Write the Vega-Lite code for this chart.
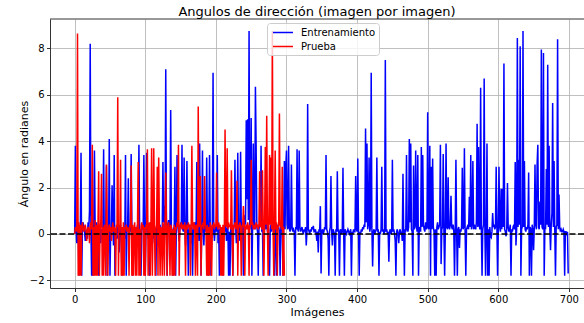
{
  "$schema": "https://vega.github.io/schema/vega-lite/v6.json",
  "autosize": {"type": "none"},
  "width": 534,
  "height": 269,
  "padding": {"left": 50, "top": 19, "right": 0, "bottom": 35},
  "background": "white",
  "title": {"text": "Angulos de dirección (imagen por imagen)", "fontSize": 13, "font": "DejaVu Sans", "fontWeight": "normal", "color": "#000", "anchor": "middle", "offset": 0},
  "config": {
    "font": "DejaVu Sans",
    "view": {"stroke": null},
    "axis": {"domain": true, "domainColor": "#333", "domainWidth": 1, "grid": true, "gridColor": "#b0b0b0", "gridWidth": 0.8, "tickColor": "#000", "tickSize": 3.5, "tickWidth": 0.8, "labelFontSize": 10, "labelColor": "#000", "labelPadding": 2.5, "titleFontSize": 11, "titleFontWeight": "normal", "titleColor": "#000", "labelFont": "DejaVu Sans", "titleFont": "DejaVu Sans"}
  },
  "datasets": {
    "train": [
{"i":0,"v":0},{"i":1,"v":3.8},{"i":2,"v":0.2},{"i":3,"v":-0.4},{"i":4,"v":0.1},{"i":5,"v":0.3},{"i":6,"v":-1.8},{"i":7,"v":0.2},{"i":8,"v":0.1},{"i":9,"v":3.5},
{"i":10,"v":-1.8},{"i":11,"v":0.3},{"i":12,"v":0.5},{"i":13,"v":0.2},{"i":14,"v":0.1},{"i":15,"v":-0.3},{"i":16,"v":0.2},{"i":17,"v":0},{"i":18,"v":-0.2},{"i":19,"v":0.5},
{"i":20,"v":0.2},{"i":21,"v":1.0},{"i":22,"v":8.2},{"i":23,"v":0.3},{"i":24,"v":-1.8},{"i":25,"v":0.4},{"i":26,"v":-1.8},{"i":27,"v":0.1},{"i":28,"v":3.6},{"i":29,"v":0.2},
{"i":30,"v":-0.3},{"i":31,"v":0.5},{"i":32,"v":-0.6},{"i":33,"v":0.1},{"i":34,"v":-1.8},{"i":35,"v":0.3},{"i":36,"v":0.2},{"i":37,"v":-0.4},{"i":38,"v":0.2},{"i":39,"v":0.1},
{"i":40,"v":0.3},{"i":41,"v":3.65},{"i":42,"v":-0.5},{"i":43,"v":0.2},{"i":44,"v":0.4},{"i":45,"v":2.95},{"i":46,"v":-1.8},{"i":47,"v":0.2},{"i":48,"v":-0.3},{"i":49,"v":4.1},
{"i":50,"v":-1.8},{"i":51,"v":0.1},{"i":52,"v":0.3},{"i":53,"v":2.1},{"i":54,"v":0.4},{"i":55,"v":-0.5},{"i":56,"v":3.4},{"i":57,"v":-1.8},{"i":58,"v":0.2},{"i":59,"v":0.1},
{"i":60,"v":-0.2},{"i":61,"v":0.3},{"i":62,"v":0.1},{"i":63,"v":-0.8},{"i":64,"v":0.2},{"i":65,"v":0.4},{"i":66,"v":-0.3},{"i":67,"v":-1.8},{"i":68,"v":0.2},{"i":69,"v":0.1},
{"i":70,"v":0.3},{"i":71,"v":-0.2},{"i":72,"v":3.4},{"i":73,"v":-1.8},{"i":74,"v":0.1},{"i":75,"v":0.3},{"i":76,"v":2.4},{"i":77,"v":-0.5},{"i":78,"v":0.2},{"i":79,"v":0.1},
{"i":80,"v":3.45},{"i":81,"v":0.3},{"i":82,"v":-1.8},{"i":83,"v":0.2},{"i":84,"v":0.1},{"i":85,"v":-0.4},{"i":86,"v":0.3},{"i":87,"v":0.2},{"i":88,"v":0.1},{"i":89,"v":0.4},
{"i":90,"v":0.3},{"i":91,"v":3.85},{"i":92,"v":0.2},{"i":93,"v":-0.3},{"i":94,"v":-1.8},{"i":95,"v":0.1},{"i":96,"v":0.4},{"i":97,"v":0.2},{"i":98,"v":3.4},{"i":99,"v":0.3},
{"i":100,"v":-1.8},{"i":101,"v":0.2},{"i":102,"v":3.5},{"i":103,"v":0.3},{"i":104,"v":-0.2},{"i":105,"v":0.1},{"i":106,"v":-1.8},{"i":107,"v":0.4},{"i":108,"v":0.2},{"i":109,"v":0.1},
{"i":110,"v":0.3},{"i":111,"v":-0.2},{"i":112,"v":0.2},{"i":113,"v":-0.4},{"i":114,"v":0.1},{"i":115,"v":-1.8},{"i":116,"v":0.3},{"i":117,"v":0.2},{"i":118,"v":-0.5},{"i":119,"v":0.1},
{"i":120,"v":0.2},{"i":121,"v":0.4},{"i":122,"v":-0.3},{"i":123,"v":0.2},{"i":124,"v":0.1},{"i":125,"v":3.1},{"i":126,"v":0.5},{"i":127,"v":1.2},{"i":128,"v":0.3},{"i":129,"v":7.1},
{"i":130,"v":0.2},{"i":131,"v":-1.8},{"i":132,"v":0.4},{"i":133,"v":0.6},{"i":134,"v":0.3},{"i":135,"v":0.2},{"i":136,"v":5.35},{"i":137,"v":0.3},{"i":138,"v":0.1},{"i":139,"v":-1.8},
{"i":140,"v":0.2},{"i":141,"v":0.3},{"i":142,"v":2.9},{"i":143,"v":-1.8},{"i":144,"v":0.2},{"i":145,"v":3.4},{"i":146,"v":0.4},{"i":147,"v":0.1},{"i":148,"v":-0.3},{"i":149,"v":0.2},
{"i":150,"v":0.5},{"i":151,"v":0.3},{"i":152,"v":3.85},{"i":153,"v":0.2},{"i":154,"v":0.1},{"i":155,"v":3.3},{"i":156,"v":0.4},{"i":157,"v":-0.5},{"i":158,"v":0.3},{"i":159,"v":3.15},
{"i":160,"v":0.2},{"i":161,"v":-1.8},{"i":162,"v":0.1},{"i":163,"v":0.4},{"i":164,"v":0.2},{"i":165,"v":-0.4},{"i":166,"v":0.3},{"i":167,"v":-1.8},{"i":168,"v":0.2},{"i":169,"v":0.1},
{"i":170,"v":0.5},{"i":171,"v":0.3},{"i":172,"v":0.2},{"i":173,"v":3.1},{"i":174,"v":0.2},{"i":175,"v":0.4},{"i":176,"v":-0.3},{"i":177,"v":3.9},{"i":178,"v":0.1},{"i":179,"v":-1.8},
{"i":180,"v":0.3},{"i":181,"v":3.6},{"i":182,"v":0.2},{"i":183,"v":-0.5},{"i":184,"v":0.4},{"i":185,"v":0.1},{"i":186,"v":0.3},{"i":187,"v":3.3},{"i":188,"v":0.2},{"i":189,"v":-1.8},
{"i":190,"v":0.1},{"i":191,"v":3.4},{"i":192,"v":0.3},{"i":193,"v":-1.8},{"i":194,"v":0.2},{"i":195,"v":0.4},{"i":196,"v":6.95},{"i":197,"v":0.1},{"i":198,"v":-0.3},{"i":199,"v":0.2},
{"i":200,"v":0.3},{"i":201,"v":0.1},{"i":202,"v":3.4},{"i":203,"v":-0.4},{"i":204,"v":0.2},{"i":205,"v":-1.8},{"i":206,"v":0.3},{"i":207,"v":0.1},{"i":208,"v":0.2},{"i":209,"v":-0.5},
{"i":210,"v":-1.8},{"i":211,"v":0.3},{"i":212,"v":0.2},{"i":213,"v":0.1},{"i":214,"v":0.4},{"i":215,"v":-0.3},{"i":216,"v":0.2},{"i":217,"v":0.3},{"i":218,"v":-1.8},{"i":219,"v":0.1},
{"i":220,"v":-1.8},{"i":221,"v":0.2},{"i":222,"v":0.3},{"i":223,"v":0.1},{"i":224,"v":-1.8},{"i":225,"v":0.2},{"i":226,"v":0.4},{"i":227,"v":3.2},{"i":228,"v":0.3},{"i":229,"v":-0.4},
{"i":230,"v":0.2},{"i":231,"v":3.5},{"i":232,"v":0.1},{"i":233,"v":-0.3},{"i":234,"v":0.4},{"i":235,"v":3.55},{"i":236,"v":0.2},{"i":237,"v":0.5},{"i":238,"v":0.3},{"i":239,"v":-1.8},
{"i":240,"v":0.3},{"i":241,"v":0.8},{"i":242,"v":0.4},{"i":243,"v":4.9},{"i":244,"v":1.5},{"i":245,"v":4.95},{"i":246,"v":0.6},{"i":247,"v":8.75},{"i":248,"v":0.2},{"i":249,"v":0.5},
{"i":250,"v":5.0},{"i":251,"v":-1.8},{"i":252,"v":0.3},{"i":253,"v":3.9},{"i":254,"v":0.4},{"i":255,"v":0.2},{"i":256,"v":6.35},{"i":257,"v":3.8},{"i":258,"v":0.3},{"i":259,"v":0.1},
{"i":260,"v":-1.8},{"i":261,"v":0.2},{"i":262,"v":0.4},{"i":263,"v":0.3},{"i":264,"v":3.8},{"i":265,"v":0.1},{"i":266,"v":0.2},{"i":267,"v":-1.8},{"i":268,"v":0.3},{"i":269,"v":0.5},
{"i":270,"v":0.2},{"i":271,"v":0.3},{"i":272,"v":0.6},{"i":273,"v":0.1},{"i":274,"v":0.4},{"i":275,"v":-0.3},{"i":276,"v":-1.8},{"i":277,"v":0.2},{"i":278,"v":0.4},{"i":279,"v":0.1},
{"i":280,"v":0.3},{"i":281,"v":0.5},{"i":282,"v":0.2},{"i":283,"v":-1.8},{"i":284,"v":0.3},{"i":285,"v":0.1},{"i":286,"v":-1.8},{"i":287,"v":0.4},{"i":288,"v":0.2},{"i":289,"v":0.3},
{"i":290,"v":0.1},{"i":291,"v":-1.8},{"i":292,"v":0.3},{"i":293,"v":0.2},{"i":294,"v":0.4},{"i":295,"v":-1.8},{"i":296,"v":0.3},{"i":297,"v":3.15},{"i":298,"v":0.2},{"i":299,"v":2.9},
{"i":300,"v":3.6},{"i":301,"v":0.4},{"i":302,"v":0.2},{"i":303,"v":3.8},{"i":304,"v":0.3},{"i":305,"v":0.1},{"i":306,"v":0.2},{"i":307,"v":3.0},{"i":308,"v":0.3},{"i":309,"v":0.1},
{"i":310,"v":0.2},{"i":311,"v":0.1},{"i":312,"v":-1.8},{"i":313,"v":0.3},{"i":314,"v":0.2},{"i":315,"v":3.65},{"i":316,"v":0.2},{"i":317,"v":0.1},{"i":318,"v":3.6},{"i":319,"v":0.3},
{"i":320,"v":0.1},{"i":321,"v":0.2},{"i":322,"v":0.3},{"i":323,"v":0.1},{"i":324,"v":0},{"i":325,"v":0.2},{"i":326,"v":0.1},{"i":327,"v":0.3},{"i":328,"v":-0.5},{"i":329,"v":0.1},
{"i":330,"v":5.6},{"i":331,"v":0.2},{"i":332,"v":0.1},{"i":333,"v":0},{"i":334,"v":0.2},{"i":335,"v":0.1},{"i":336,"v":0.3},{"i":337,"v":0.2},{"i":338,"v":0.35},{"i":339,"v":0.1},
{"i":340,"v":0.1},{"i":341,"v":0.2},{"i":342,"v":0},{"i":343,"v":-0.3},{"i":344,"v":0.1},{"i":345,"v":-0.8},{"i":346,"v":0.2},{"i":347,"v":0.1},{"i":348,"v":1.2},{"i":349,"v":-1.7},
{"i":350,"v":0.1},{"i":351,"v":0.2},{"i":352,"v":0},{"i":353,"v":0.1},{"i":354,"v":0.3},{"i":355,"v":0.2},{"i":356,"v":3.4},{"i":357,"v":0.2},{"i":358,"v":0.1},{"i":359,"v":-0.2},
{"i":360,"v":-1.8},{"i":361,"v":0.1},{"i":362,"v":0.3},{"i":363,"v":2.5},{"i":364,"v":0.1},{"i":365,"v":-0.5},{"i":366,"v":0.2},{"i":367,"v":0.1},{"i":368,"v":0},{"i":369,"v":-1.8},
{"i":370,"v":0.2},{"i":371,"v":0.1},{"i":372,"v":2.7},{"i":373,"v":0.1},{"i":374,"v":0.2},{"i":375,"v":-1.8},{"i":376,"v":0.1},{"i":377,"v":0.2},{"i":378,"v":0},{"i":379,"v":0.1},
{"i":380,"v":2.85},{"i":381,"v":0.1},{"i":382,"v":-1.8},{"i":383,"v":0.2},{"i":384,"v":0.1},{"i":385,"v":0},{"i":386,"v":0.1},{"i":387,"v":0.2},{"i":388,"v":0.1},{"i":389,"v":0},
{"i":390,"v":0.1},{"i":391,"v":0.2},{"i":392,"v":-1.8},{"i":393,"v":0.1},{"i":394,"v":0},{"i":395,"v":0.2},{"i":396,"v":0.1},{"i":397,"v":0.1},{"i":398,"v":2.5},{"i":399,"v":0.2},
{"i":400,"v":0.1},{"i":401,"v":3.25},{"i":402,"v":0.2},{"i":403,"v":-1.8},{"i":404,"v":0.1},{"i":405,"v":0},{"i":406,"v":0.2},{"i":407,"v":0.1},{"i":408,"v":0.3},{"i":409,"v":0.2},
{"i":410,"v":0.4},{"i":411,"v":0.3},{"i":412,"v":4.55},{"i":413,"v":0.5},{"i":414,"v":3.9},{"i":415,"v":0.2},{"i":416,"v":0.4},{"i":417,"v":3.3},{"i":418,"v":0.1},{"i":419,"v":0.3},
{"i":420,"v":6.95},{"i":421,"v":0.2},{"i":422,"v":-1.4},{"i":423,"v":0.1},{"i":424,"v":0.2},{"i":425,"v":0},{"i":426,"v":0.1},{"i":427,"v":0.2},{"i":428,"v":3.3},{"i":429,"v":0.1},
{"i":430,"v":0.2},{"i":431,"v":-1.8},{"i":432,"v":0.1},{"i":433,"v":0},{"i":434,"v":0.2},{"i":435,"v":2.9},{"i":436,"v":0.1},{"i":437,"v":0.2},{"i":438,"v":0},{"i":439,"v":0.1},
{"i":440,"v":7.5},{"i":441,"v":0.1},{"i":442,"v":0.2},{"i":443,"v":0},{"i":444,"v":0.1},{"i":445,"v":-1.2},{"i":446,"v":0.1},{"i":447,"v":0.2},{"i":448,"v":0},{"i":449,"v":0.1},
{"i":450,"v":3.2},{"i":451,"v":0.1},{"i":452,"v":0.2},{"i":453,"v":0},{"i":454,"v":-0.3},{"i":455,"v":-1.8},{"i":456,"v":0.1},{"i":457,"v":0.2},{"i":458,"v":0},{"i":459,"v":-0.4},
{"i":460,"v":0.1},{"i":461,"v":0.2},{"i":462,"v":0},{"i":463,"v":0.1},{"i":464,"v":-0.3},{"i":465,"v":2.6},{"i":466,"v":0.1},{"i":467,"v":-1.8},{"i":468,"v":0.2},{"i":469,"v":0.1},
{"i":470,"v":3.4},{"i":471,"v":0.2},{"i":472,"v":0.1},{"i":473,"v":0.3},{"i":474,"v":4.1},{"i":475,"v":0.5},{"i":476,"v":3.9},{"i":477,"v":0.2},{"i":478,"v":0.1},{"i":479,"v":-1.8},
{"i":480,"v":2.95},{"i":481,"v":0.2},{"i":482,"v":0.3},{"i":483,"v":3.6},{"i":484,"v":0.4},{"i":485,"v":0.1},{"i":486,"v":3.4},{"i":487,"v":-1.8},{"i":488,"v":0.2},{"i":489,"v":0.3},
{"i":490,"v":0.1},{"i":491,"v":3.75},{"i":492,"v":0.3},{"i":493,"v":3.4},{"i":494,"v":0.4},{"i":495,"v":0.2},{"i":496,"v":0.1},{"i":497,"v":0.5},{"i":498,"v":0.2},{"i":499,"v":0.3},
{"i":500,"v":5.25},{"i":501,"v":0.2},{"i":502,"v":0.3},{"i":503,"v":3.8},{"i":504,"v":-1.8},{"i":505,"v":2.9},{"i":506,"v":0.2},{"i":507,"v":3.25},{"i":508,"v":0.3},{"i":509,"v":0.1},
{"i":510,"v":-1.8},{"i":511,"v":0.2},{"i":512,"v":-1.8},{"i":513,"v":0.3},{"i":514,"v":0.5},{"i":515,"v":0.2},{"i":516,"v":0.3},{"i":517,"v":0.4},{"i":518,"v":3.85},{"i":519,"v":-1.3},
{"i":520,"v":0.2},{"i":521,"v":0.3},{"i":522,"v":3.45},{"i":523,"v":0.1},{"i":524,"v":-1.8},{"i":525,"v":0.2},{"i":526,"v":3.9},{"i":527,"v":0.3},{"i":528,"v":0.2},{"i":529,"v":2.45},
{"i":530,"v":0.3},{"i":531,"v":0.2},{"i":532,"v":0.4},{"i":533,"v":1.65},{"i":534,"v":0.3},{"i":535,"v":0.2},{"i":536,"v":0.4},{"i":537,"v":0.1},{"i":538,"v":-1.8},{"i":539,"v":0.2},
{"i":540,"v":3.2},{"i":541,"v":0.1},{"i":542,"v":-1.8},{"i":543,"v":0.2},{"i":544,"v":0.3},{"i":545,"v":-0.6},{"i":546,"v":0.2},{"i":547,"v":0.1},{"i":548,"v":0.3},{"i":549,"v":2.85},
{"i":550,"v":0.2},{"i":551,"v":0.3},{"i":552,"v":3.7},{"i":553,"v":0.1},{"i":554,"v":-1.8},{"i":555,"v":0.2},{"i":556,"v":0.3},{"i":557,"v":0.4},{"i":558,"v":0.2},{"i":559,"v":1.6},
{"i":560,"v":0.3},{"i":561,"v":3.4},{"i":562,"v":0.2},{"i":563,"v":0.4},{"i":564,"v":3.15},{"i":565,"v":0.2},{"i":566,"v":0.4},{"i":567,"v":0.3},{"i":568,"v":0.2},{"i":569,"v":0.5},
{"i":570,"v":4.75},{"i":571,"v":0.3},{"i":572,"v":3.75},{"i":573,"v":0.4},{"i":574,"v":0.2},{"i":575,"v":6.3},{"i":576,"v":0.3},{"i":577,"v":-1.8},{"i":578,"v":0.2},{"i":579,"v":0.4},
{"i":580,"v":6.7},{"i":581,"v":0.2},{"i":582,"v":-1.8},{"i":583,"v":0.3},{"i":584,"v":3.9},{"i":585,"v":-1.8},{"i":586,"v":0.2},{"i":587,"v":-1.8},{"i":588,"v":0.3},{"i":589,"v":-0.1},
{"i":590,"v":-0.15},{"i":591,"v":0.1},{"i":592,"v":0.9},{"i":593,"v":0.3},{"i":594,"v":0.4},{"i":595,"v":0.2},{"i":596,"v":0.3},{"i":597,"v":2.9},{"i":598,"v":0.4},{"i":599,"v":-1.8},
{"i":600,"v":0.2},{"i":601,"v":2.9},{"i":602,"v":0.3},{"i":603,"v":0.1},{"i":604,"v":1.95},{"i":605,"v":0.2},{"i":606,"v":1.95},{"i":607,"v":0.3},{"i":608,"v":7.35},{"i":609,"v":0.2},
{"i":610,"v":0.1},{"i":611,"v":-0.1},{"i":612,"v":0.2},{"i":613,"v":2.2},{"i":614,"v":0.3},{"i":615,"v":0.1},{"i":616,"v":0.2},{"i":617,"v":0.4},{"i":618,"v":-1.8},{"i":619,"v":0.2},
{"i":620,"v":0.1},{"i":621,"v":0.3},{"i":622,"v":0.4},{"i":623,"v":0.2},{"i":624,"v":3.1},{"i":625,"v":-0.5},{"i":626,"v":0.2},{"i":627,"v":8.45},{"i":628,"v":0.3},{"i":629,"v":3.2},
{"i":630,"v":0.4},{"i":631,"v":8.1},{"i":632,"v":-1.8},{"i":633,"v":0.2},{"i":634,"v":0.3},{"i":635,"v":8.75},{"i":636,"v":0.3},{"i":637,"v":3.15},{"i":638,"v":0.2},{"i":639,"v":0.1},
{"i":640,"v":0.3},{"i":641,"v":0.2},{"i":642,"v":0.4},{"i":643,"v":2.65},{"i":644,"v":-1.8},{"i":645,"v":0.3},{"i":646,"v":0.2},{"i":647,"v":-1.8},{"i":648,"v":0.4},{"i":649,"v":0.2},
{"i":650,"v":-0.7},{"i":651,"v":0.3},{"i":652,"v":3.0},{"i":653,"v":0.4},{"i":654,"v":0.2},{"i":655,"v":3.0},{"i":656,"v":3.85},{"i":657,"v":0.3},{"i":658,"v":0.2},{"i":659,"v":1.4},
{"i":660,"v":0.4},{"i":661,"v":7.95},{"i":662,"v":0.3},{"i":663,"v":0.2},{"i":664,"v":7.8},{"i":665,"v":-1.8},{"i":666,"v":0.3},{"i":667,"v":0.2},{"i":668,"v":2.8},{"i":669,"v":0.4},
{"i":670,"v":7.3},{"i":671,"v":0.3},{"i":672,"v":3.8},{"i":673,"v":0.2},{"i":674,"v":-0.7},{"i":675,"v":0.4},{"i":676,"v":0.9},{"i":677,"v":5.65},{"i":678,"v":0.3},{"i":679,"v":3.15},
{"i":680,"v":0.2},{"i":681,"v":-1.8},{"i":682,"v":0.3},{"i":683,"v":0.4},{"i":684,"v":8.4},{"i":685,"v":0.2},{"i":686,"v":1.7},{"i":687,"v":0.3},{"i":688,"v":0.1},{"i":689,"v":0.2},
{"i":690,"v":0.1},{"i":691,"v":0.1},{"i":692,"v":0.2},{"i":693,"v":0.1},{"i":694,"v":-1.8},{"i":695,"v":0.1},{"i":696,"v":0.1},{"i":697,"v":0},{"i":698,"v":0.1},{"i":699,"v":-1.7}
    ],
    "test": [
{"i":0,"v":0},{"i":1,"v":0.3},{"i":2,"v":0.2},{"i":3,"v":0.1},{"i":4,"v":8.65},{"i":5,"v":-1.8},{"i":6,"v":0.5},{"i":7,"v":-1.8},{"i":8,"v":0.4},{"i":9,"v":-1.8},
{"i":10,"v":0.3},{"i":11,"v":0.5},{"i":12,"v":0.2},{"i":13,"v":0.1},{"i":14,"v":0.3},{"i":15,"v":0.4},{"i":16,"v":0.2},{"i":17,"v":-0.3},{"i":18,"v":0.1},{"i":19,"v":0.3},
{"i":20,"v":0.2},{"i":21,"v":-0.4},{"i":22,"v":0.3},{"i":23,"v":0.5},{"i":24,"v":0.2},{"i":25,"v":3.85},{"i":26,"v":-1.8},{"i":27,"v":0.3},{"i":28,"v":-1.8},{"i":29,"v":0.6},
{"i":30,"v":-1.8},{"i":31,"v":0.4},{"i":32,"v":-1.8},{"i":33,"v":0.3},{"i":34,"v":2.7},{"i":35,"v":-1.8},{"i":36,"v":0.2},{"i":37,"v":0.5},{"i":38,"v":2.6},{"i":39,"v":-1.8},
{"i":40,"v":0.3},{"i":41,"v":-1.8},{"i":42,"v":0.4},{"i":43,"v":0.2},{"i":44,"v":-1.8},{"i":45,"v":3.0},{"i":46,"v":0.3},{"i":47,"v":-1.8},{"i":48,"v":0.2},{"i":49,"v":0.4},
{"i":50,"v":0.1},{"i":51,"v":0.3},{"i":52,"v":-0.3},{"i":53,"v":0.2},{"i":54,"v":0.5},{"i":55,"v":0.1},{"i":56,"v":0.3},{"i":57,"v":0.2},{"i":58,"v":-1.8},{"i":59,"v":0.4},
{"i":60,"v":0.3},{"i":61,"v":5.9},{"i":62,"v":-1.8},{"i":63,"v":0.4},{"i":64,"v":0.2},{"i":65,"v":3.2},{"i":66,"v":-1.8},{"i":67,"v":0.3},{"i":68,"v":-1.8},{"i":69,"v":0.5},
{"i":70,"v":-1.8},{"i":71,"v":0.3},{"i":72,"v":0.2},{"i":73,"v":0.4},{"i":74,"v":0.1},{"i":75,"v":0.3},{"i":76,"v":0.2},{"i":77,"v":-1.8},{"i":78,"v":0.4},{"i":79,"v":0.3},
{"i":80,"v":2.95},{"i":81,"v":-1.8},{"i":82,"v":0.4},{"i":83,"v":-1.8},{"i":84,"v":0.2},{"i":85,"v":0.5},{"i":86,"v":-1.8},{"i":87,"v":0.3},{"i":88,"v":-1.8},{"i":89,"v":0.4},
{"i":90,"v":3.1},{"i":91,"v":-1.8},{"i":92,"v":0.2},{"i":93,"v":-1.8},{"i":94,"v":0.3},{"i":95,"v":0.5},{"i":96,"v":0.2},{"i":97,"v":0.4},{"i":98,"v":-1.8},{"i":99,"v":0.3},
{"i":100,"v":-1.8},{"i":101,"v":0.4},{"i":102,"v":0.2},{"i":103,"v":3.65},{"i":104,"v":-1.8},{"i":105,"v":0.3},{"i":106,"v":0.5},{"i":107,"v":-1.8},{"i":108,"v":0.4},{"i":109,"v":3.7},
{"i":110,"v":-1.8},{"i":111,"v":0.3},{"i":112,"v":3.7},{"i":113,"v":0.5},{"i":114,"v":-1.8},{"i":115,"v":0.2},{"i":116,"v":0.4},{"i":117,"v":2.9},{"i":118,"v":-1.8},{"i":119,"v":3.3},
{"i":120,"v":0.4},{"i":121,"v":-1.8},{"i":122,"v":0.3},{"i":123,"v":0.2},{"i":124,"v":-1.8},{"i":125,"v":0.5},{"i":126,"v":0.3},{"i":127,"v":-1.8},{"i":128,"v":0.2},{"i":129,"v":2.65},
{"i":130,"v":0.4},{"i":131,"v":-1.8},{"i":132,"v":0.3},{"i":133,"v":0.5},{"i":134,"v":0.2},{"i":135,"v":-1.8},{"i":136,"v":0.4},{"i":137,"v":0.3},{"i":138,"v":-1.8},{"i":139,"v":0.2},
{"i":140,"v":-1.8},{"i":141,"v":0.4},{"i":142,"v":-1.8},{"i":143,"v":0.3},{"i":144,"v":0.2},{"i":145,"v":0.5},{"i":146,"v":0.3},{"i":147,"v":3.85},{"i":148,"v":-1.8},{"i":149,"v":0.4},
{"i":150,"v":0.3},{"i":151,"v":0.5},{"i":152,"v":0.2},{"i":153,"v":0.4},{"i":154,"v":0.3},{"i":155,"v":0.2},{"i":156,"v":0.5},{"i":157,"v":-1.8},{"i":158,"v":0.3},{"i":159,"v":0.4},
{"i":160,"v":0.2},{"i":161,"v":0.5},{"i":162,"v":0.3},{"i":163,"v":0.4},{"i":164,"v":-1.8},{"i":165,"v":0.3},{"i":166,"v":3.8},{"i":167,"v":0.4},{"i":168,"v":0.2},{"i":169,"v":0.5},
{"i":170,"v":0.3},{"i":171,"v":-1.8},{"i":172,"v":0.4},{"i":173,"v":0.2},{"i":174,"v":-1.8},{"i":175,"v":5.5},{"i":176,"v":0.3},{"i":177,"v":0.4},{"i":178,"v":2.5},{"i":179,"v":-1.8},
{"i":180,"v":0.4},{"i":181,"v":0.3},{"i":182,"v":0.5},{"i":183,"v":0.2},{"i":184,"v":2.5},{"i":185,"v":0.4},{"i":186,"v":0.3},{"i":187,"v":-1.8},{"i":188,"v":0.4},{"i":189,"v":-1.8},
{"i":190,"v":0.3},{"i":191,"v":-1.8},{"i":192,"v":0.5},{"i":193,"v":0.2},{"i":194,"v":-1.8},{"i":195,"v":0.4},{"i":196,"v":0.3},{"i":197,"v":0.5},{"i":198,"v":0.2},{"i":199,"v":0.4},
{"i":200,"v":0.3},{"i":201,"v":2.65},{"i":202,"v":0.4},{"i":203,"v":0.2},{"i":204,"v":0.5},{"i":205,"v":0.3},{"i":206,"v":0.4},{"i":207,"v":-1.8},{"i":208,"v":0.3},{"i":209,"v":-1.8},
{"i":210,"v":0.4},{"i":211,"v":-1.8},{"i":212,"v":0.3},{"i":213,"v":4.5},{"i":214,"v":0.4},{"i":215,"v":0.3},{"i":216,"v":3.7},{"i":217,"v":0.2},{"i":218,"v":0.5},{"i":219,"v":0.3},
{"i":220,"v":0.4},{"i":221,"v":0.2},{"i":222,"v":2.75},{"i":223,"v":0.3},{"i":224,"v":-1.8},{"i":225,"v":0.4},{"i":226,"v":0.3},{"i":227,"v":0.5},{"i":228,"v":0.2},{"i":229,"v":0.4},
{"i":230,"v":2.3},{"i":231,"v":-1.8},{"i":232,"v":0.4},{"i":233,"v":0.3},{"i":234,"v":0.5},{"i":235,"v":0.2},{"i":236,"v":-1.8},{"i":237,"v":0.4},{"i":238,"v":0.3},{"i":239,"v":1.2},
{"i":240,"v":0.5},{"i":241,"v":-1.8},{"i":242,"v":0.3},{"i":243,"v":0.4},{"i":244,"v":0.2},{"i":245,"v":0.5},{"i":246,"v":0.3},{"i":247,"v":-1.8},{"i":248,"v":0.4},{"i":249,"v":0.3},
{"i":250,"v":3.2},{"i":251,"v":0.4},{"i":252,"v":0.5},{"i":253,"v":0.2},{"i":254,"v":0.3},{"i":255,"v":0.4},{"i":256,"v":0.2},{"i":257,"v":0.5},{"i":258,"v":0.3},{"i":259,"v":0.4},
{"i":260,"v":0.2},{"i":261,"v":0.4},{"i":262,"v":2.7},{"i":263,"v":0.3},{"i":264,"v":0.5},{"i":265,"v":0.2},{"i":266,"v":2.75},{"i":267,"v":0.4},{"i":268,"v":-1.8},{"i":269,"v":0.3},
{"i":270,"v":3.75},{"i":271,"v":0.4},{"i":272,"v":5.1},{"i":273,"v":0.3},{"i":274,"v":-1.8},{"i":275,"v":0.5},{"i":276,"v":3.4},{"i":277,"v":0.4},{"i":278,"v":3.3},{"i":279,"v":0.2},
{"i":280,"v":8.75},{"i":281,"v":0.3},{"i":282,"v":-1.8},{"i":283,"v":0.4},{"i":284,"v":3.6},{"i":285,"v":0.2},{"i":286,"v":0.5},{"i":287,"v":-1.8},{"i":288,"v":0.3},{"i":289,"v":0.4},
{"i":290,"v":5.2},{"i":291,"v":0.3},{"i":292,"v":0.4},{"i":293,"v":0.2},{"i":294,"v":2.9},{"i":295,"v":-1.8},{"i":296,"v":0.3},{"i":297,"v":-1.8}
    ]
  },
  "encoding": {
    "x": {"type": "quantitative", "scale": {"domain": [-34.95, 721.4], "nice": false, "zero": false}, "axis": {"values": [0, 100, 200, 300, 400, 500, 600, 700], "title": "Imágenes", "titlePadding": 2, "labelFlush": false}},
    "y": {"type": "quantitative", "scale": {"domain": [-2.33, 9.27], "nice": false, "zero": false}, "axis": {"values": [-2, 0, 2, 4, 6, 8], "title": "Ángulo en radianes", "titlePadding": 0, "labelExpr": "replace(datum.label, '-', '−')"}}
  },
  "layer": [
    {
      "data": {"name": "train"},
      "mark": {"type": "line", "strokeWidth": 1.5, "clip": true},
      "encoding": {
        "x": {"field": "i", "type": "quantitative"},
        "y": {"field": "v", "type": "quantitative"},
        "color": {
          "datum": "Entrenamiento",
          "type": "nominal",
          "scale": {"domain": ["Entrenamiento", "Prueba"], "range": ["#0000ff", "#ff0000"]},
          "legend": {"title": null, "orient": "none", "legendX": 217, "legendY": 4, "symbolType": "M-0.7,0L3.3,0", "symbolSize": 100, "symbolStrokeWidth": 1.5, "labelFontSize": 10, "labelColor": "#000", "labelFont": "DejaVu Sans", "fillColor": "rgba(255,255,255,0.8)", "strokeColor": "#cccccc", "cornerRadius": 3, "padding": 3.5, "rowPadding": 3, "labelOffset": 18.5}
        }
      }
    },
    {
      "data": {"name": "test"},
      "mark": {"type": "line", "strokeWidth": 1.5, "clip": true},
      "encoding": {
        "x": {"field": "i", "type": "quantitative"},
        "y": {"field": "v", "type": "quantitative"},
        "color": {"datum": "Prueba", "type": "nominal"}
      }
    },
    {
      "data": {"values": [{"ref": 0}]},
      "mark": {"type": "rule", "color": "#000", "strokeWidth": 1.6, "strokeDash": [6, 2.5]},
      "encoding": {"y": {"field": "ref", "type": "quantitative"}}
    },
    {
      "data": {"values": [{"edge": 9.27}]},
      "mark": {"type": "rule", "color": "#333", "strokeWidth": 1},
      "encoding": {"y": {"field": "edge", "type": "quantitative"}}
    }
  ]
}
